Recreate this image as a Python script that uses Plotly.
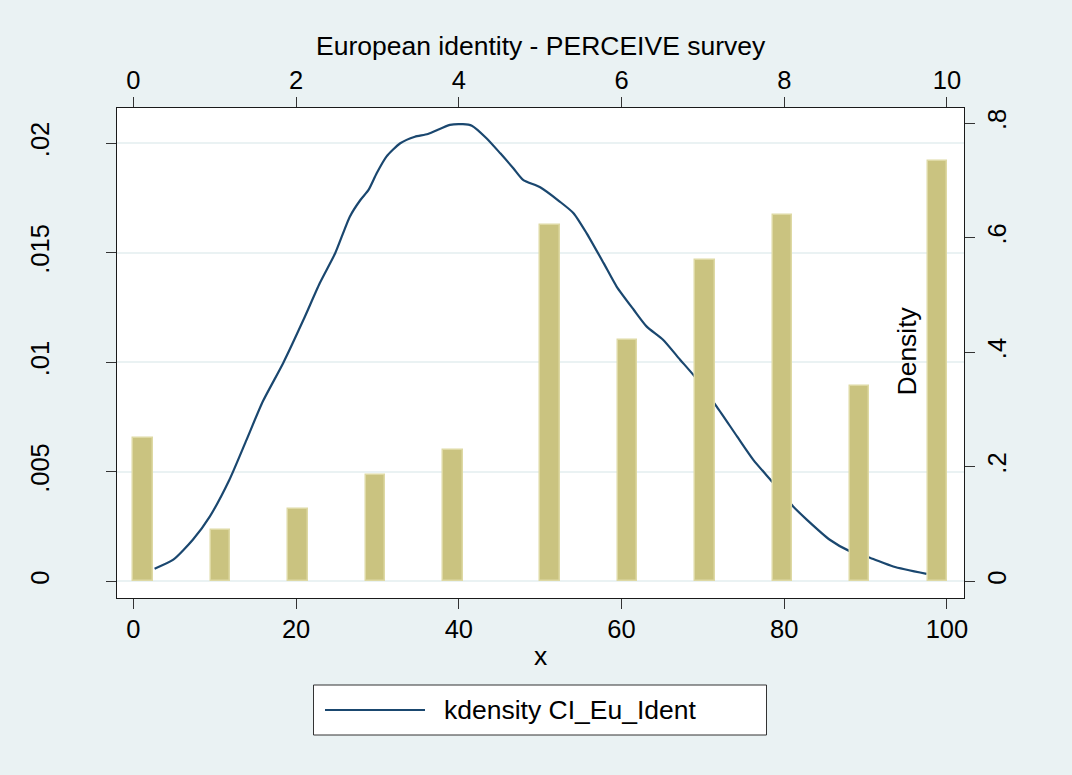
import plotly.graph_objects as go

# ---------------- data ----------------
# histogram (top axis 0-10 scale, right axis "Density")
bin_centers = [0.119, 1.071, 2.024, 2.976, 3.929, 5.119, 6.071, 7.024, 7.976, 8.929, 9.881]
hist_density = [0.250, 0.0905, 0.126, 0.186, 0.229, 0.623, 0.422, 0.562, 0.639, 0.342, 0.734]

# kernel density of CI_Eu_Ident (bottom axis 0-100 scale, left axis)
kd_x = [2.6, 4.9, 7.3, 9.4, 11.8, 13.9, 15.9, 18.4, 20.9, 22.9, 24.8, 26.6, 27.9, 28.9,
        29.9, 31.1, 32.8, 34.6, 36.2, 38.9, 40.5, 41.6, 43.4, 45.1, 46.7, 47.9, 50.0,
        52.4, 54.1, 55.7, 57.8, 59.4, 61.5, 63.1, 65.1, 67.2, 69.0, 71.7, 74.2, 76.2,
        78.5, 81.1, 82.8, 85.6, 88.1, 90.6, 93.4, 97.5]
kd_y = [0.00058, 0.00099, 0.00190, 0.00297, 0.00464, 0.00646, 0.00821, 0.00996, 0.01194,
        0.01361, 0.01498, 0.01665, 0.01741, 0.01787, 0.01863, 0.01939, 0.02000, 0.02030,
        0.02042, 0.02084, 0.02087, 0.02080, 0.02023, 0.01954, 0.01886, 0.01833, 0.01799,
        0.01734, 0.01681, 0.01590, 0.01453, 0.01346, 0.01240, 0.01163, 0.01103, 0.01012,
        0.00935, 0.00798, 0.00662, 0.00555, 0.00456, 0.00342, 0.00281, 0.00190, 0.00137,
        0.00107, 0.00068, 0.00034]

x_tickvals = [0, 20, 40, 60, 80, 100]
x_ticktext = ["0", "20", "40", "60", "80", "100"]
x2_tickvals = [0, 2, 4, 6, 8, 10]
x2_ticktext = ["0", "2", "4", "6", "8", "10"]
y_tickvals = [0, 0.005, 0.01, 0.015, 0.02]
y_ticktext = ["0", ".005", ".01", ".015", ".02"]
y2_tickvals = [0, 0.2, 0.4, 0.6, 0.8]
y2_ticktext = ["0", ".2", ".4", ".6", ".8"]

top_title = "European identity - PERCEIVE survey"
bottom_title = "x"
right_title = "Density"
legend_label = "kdensity CI_Eu_Ident"

# ---------------- styles ----------------
BG = "#EAF2F3"
NAVY = "#1A476F"
KHAKI = "#CAC380"
KHAKI_LINE = "#DED9A4"
AX = "#1a1a1a"
FONT = "Liberation Sans, Arial, sans-serif"
TICK_SIZE = 25.5
TITLE_SIZE = 26.5

fig = go.Figure()

fig.add_trace(go.Scatter(
    x=kd_x, y=kd_y, mode="lines", xaxis="x", yaxis="y",
    line=dict(color=NAVY, width=2.2, shape="spline", smoothing=0.6),
    name=legend_label, showlegend=False,
))

fig.add_trace(go.Bar(
    x=bin_centers, y=hist_density, xaxis="x2", yaxis="y2",
    width=0.238, marker=dict(color=KHAKI, line=dict(color=KHAKI_LINE, width=1.5)),
    showlegend=False,
))

axis_common = dict(
    showline=True, linecolor=AX, linewidth=1, ticks="outside", ticklen=10,
    tickcolor="#333333", tickwidth=1, zeroline=False,
    tickfont=dict(family=FONT, size=TICK_SIZE, color="black"),
)

fig.update_layout(
    width=1072, height=775,
    margin=dict(l=117, r=108, t=108, b=177),
    paper_bgcolor=BG, plot_bgcolor="white",
    font=dict(family=FONT, color="black"),
    bargap=0,
    xaxis=dict(range=[-2.02, 102.1], tickmode="array", tickvals=x_tickvals,
               ticktext=x_ticktext, showgrid=False, mirror=False,
               ticklabelstandoff=-2, **axis_common),
    xaxis2=dict(range=[-0.202, 10.21], tickmode="array", tickvals=x2_tickvals,
                ticktext=x2_ticktext, showgrid=False, overlaying="x", side="top",
                anchor="y", ticklabelstandoff=-2, **axis_common),
    yaxis=dict(range=[-0.000758, 0.02161], tickmode="array", tickvals=y_tickvals,
               ticktext=y_ticktext, tickangle=-90, showgrid=True, gridcolor=BG,
               gridwidth=1.5, ticklabelstandoff=47, **axis_common),
    yaxis2=dict(range=[-0.029, 0.8266], tickmode="array", tickvals=y2_tickvals,
                ticktext=y2_ticktext, tickangle=-90, showgrid=False,
                overlaying="y", side="right", anchor="x", ticklabelstandoff=0,
                **axis_common),
    showlegend=False,
)

# axis titles as annotations
PW, PH = 847.0, 490.0
fig.add_annotation(text=top_title, xref="paper", yref="paper", x=0.5,
                   y=(598 - 46) / PH, showarrow=False, xanchor="center", yanchor="middle",
                   font=dict(family=FONT, size=TITLE_SIZE, color="black"))
fig.add_annotation(text=bottom_title, xref="paper", yref="paper", x=0.5,
                   y=(598 - 656) / PH, showarrow=False, xanchor="center", yanchor="middle",
                   font=dict(family=FONT, size=TITLE_SIZE, color="black"))
fig.add_annotation(text=right_title, xref="paper", yref="paper", x=(906.5 - 117) / PW,
                   y=(598 - 351) / PH, showarrow=False, textangle=-90,
                   xanchor="center", yanchor="middle",
                   font=dict(family=FONT, size=TITLE_SIZE, color="black"))

# legend drawn as a box
fig.add_shape(type="rect", xref="paper", yref="paper",
              x0=(313.5 - 117) / PW, x1=(766.5 - 117) / PW,
              y0=(598 - 735) / PH, y1=(598 - 685) / PH,
              line=dict(color="#333333", width=1), fillcolor="white", layer="above")
fig.add_shape(type="line", xref="paper", yref="paper",
              x0=(325 - 117) / PW, x1=(425 - 117) / PW,
              y0=(598 - 710) / PH, y1=(598 - 710) / PH,
              line=dict(color=NAVY, width=2.2), layer="above")
fig.add_annotation(text=legend_label, xref="paper", yref="paper",
                   x=(441.5 - 117) / PW, y=(598 - 710) / PH, showarrow=False,
                   xanchor="left", yanchor="middle",
                   font=dict(family=FONT, size=TITLE_SIZE, color="black"))

fig.write_html("out.html")
